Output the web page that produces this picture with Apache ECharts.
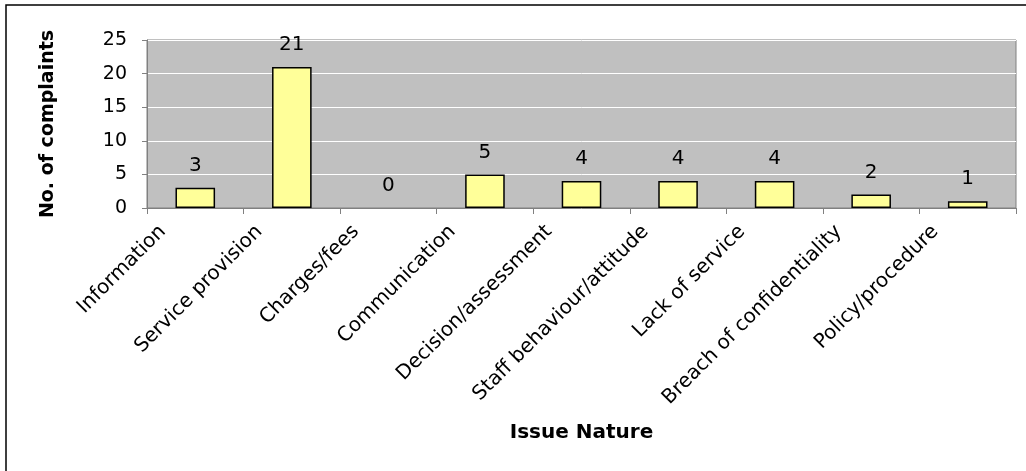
<!DOCTYPE html>
<html><head><meta charset="utf-8">
<script src="https://cdn.jsdelivr.net/npm/echarts@6/dist/echarts.min.js"></script>
<style>html,body{margin:0;padding:0;background:#fff}#c{width:1026px;height:471px}</style>
</head><body><div id="c"></div>
<script>
var categories = ["Information","Service provision","Charges/fees","Communication","Decision/assessment","Staff behaviour/attitude","Lack of service","Breach of confidentiality","Policy/procedure"];
var complaints = [3,21,0,5,4,4,4,2,1];
var yTicks = [0,5,10,15,20,25];

var FONT = 'DejaVu Sans, Liberation Sans, Arial';
var barData = complaints.map(function(v){
  return v === 0 ? {value:v, itemStyle:{borderWidth:0}} : v;
});

var chart = echarts.init(document.getElementById('c'));
chart.setOption({
  animation:false,
  backgroundColor:'#ffffff',
  graphic:[{type:'rect',shape:{x:6,y:5,width:1040,height:500},style:{fill:'none',stroke:'#000',lineWidth:1.5},silent:true,z:-1}],
  grid:{left:147,right:10,top:40,bottom:263,show:true,backgroundColor:'#C0C0C0',borderColor:'#808080',borderWidth:1},
  xAxis:{type:'category',data:categories,
    name:'Issue Nature',nameLocation:'middle',nameGap:215,
    nameTextStyle:{fontFamily:FONT,fontWeight:'bold',fontSize:20,color:'#000'},
    axisLine:{lineStyle:{color:'#808080',width:1}},
    axisTick:{show:true,length:6,lineStyle:{color:'#808080'}},
    axisLabel:{rotate:45,margin:-12,padding:[0,46,20,0],interval:0,fontFamily:FONT,fontSize:20,color:'#000'}},
  yAxis:{type:'value',min:0,max:25,interval:5,
    name:'No. of complaints',nameLocation:'middle',nameGap:89,nameRotate:90,
    nameTextStyle:{fontFamily:FONT,fontWeight:'bold',fontSize:19,color:'#000'},
    axisLine:{show:true,lineStyle:{color:'#808080'}},
    axisTick:{show:true,length:5,lineStyle:{color:'#808080'}},
    splitLine:{lineStyle:{color:'#ffffff',width:1}},
    axisLabel:{margin:20,fontFamily:FONT,fontSize:19,color:'#000',
      formatter:function(v){return yTicks.indexOf(v)>=0?String(v):'';}}},
  series:[{type:'bar',data:barData,barWidth:'41%',
    itemStyle:{color:'#FFFF99',borderColor:'#000',borderWidth:1.5},
    label:{show:true,position:'top',distance:12,fontFamily:FONT,fontSize:20,color:'#000'}}]
});
</script></body></html>
